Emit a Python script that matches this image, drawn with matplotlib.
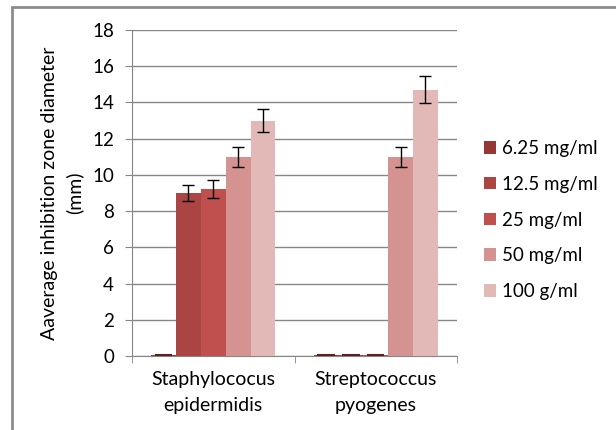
import numpy as np
import matplotlib
matplotlib.use("Agg")
import matplotlib.pyplot as plt
from matplotlib.patches import Rectangle

plt.rcParams['font.family'] = ['Lato', 'DejaVu Sans']

# --- data ---
organisms = ["Staphylococus\nepidermidis", "Streptococcus\npyogenes"]
concentrations = ["6.25 mg/ml", "12.5 mg/ml", "25 mg/ml", "50 mg/ml", "100 g/ml"]
mean_625 = [0.08, 0.08]
mean_125 = [9.0, 0.08]
mean_25 = [9.2, 0.08]
mean_50 = [11.0, 11.0]
mean_100 = [13.0, 14.7]
err_625 = [0.0, 0.0]
err_125 = [0.45, 0.0]
err_25 = [0.5, 0.0]
err_50 = [0.55, 0.55]
err_100 = [0.65, 0.75]
yticks = [0, 2, 4, 6, 8, 10, 12, 14, 16, 18]

means = [mean_625, mean_125, mean_25, mean_50, mean_100]
errs = [err_625, err_125, err_25, err_50, err_100]
colors = ["#953735", "#aa4543", "#c0504d", "#d49291", "#e3b9b8"]

fig = plt.figure(figsize=(6.16, 4.30), dpi=100)
ax = fig.add_axes([132 / 616, 1 - 356 / 430, (457 - 132) / 616, (356 - 30) / 430])

# outer chart border
fig.patches.append(Rectangle((12 / 616, -0.1), 1.2, 1 - 7 / 430 + 0.1,
                             transform=fig.transFigure, fill=False,
                             edgecolor="#8c8c8c", linewidth=2, zorder=0))

x = np.arange(len(organisms))
w = 0.153
for i, (m, e, c, lab) in enumerate(zip(means, errs, colors, concentrations)):
    pos = x + (i - 2) * w
    ax.bar(pos, m, width=w, color=c, label=lab, zorder=3)
    show = [k for k in range(len(m)) if e[k] > 0]
    ax.errorbar(pos[show], np.array(m)[show], yerr=np.array(e)[show], fmt="none",
                ecolor="black", elinewidth=1, capsize=4, capthick=1, zorder=4)
    tiny = [k for k in range(len(m)) if m[k] < 0.5]
    ax.hlines(np.array(m)[tiny], pos[tiny] - w * 0.35, pos[tiny] + w * 0.35,
              color="#5a2020", linewidth=1.5, zorder=4)

ax.set_xlim(-0.5, 1.5)
ax.set_ylim(0, 18)
ax.set_yticks(yticks)
ax.set_xticks(x)
ax.set_xticklabels(organisms, fontsize=14, linespacing=1.6)
ax.set_xticks([-0.5, 0.5, 1.5], minor=True)
ax.tick_params(axis="x", which="major", length=0, pad=11)
ax.tick_params(axis="x", which="minor", length=5, color="#868686", direction="out")
ax.tick_params(axis="y", labelsize=13.5, length=5, color="#868686", pad=8)
ax.yaxis.grid(True, color="#868686", linewidth=1, zorder=0)
ax.set_axisbelow(True)
for s in ["top", "right"]:
    ax.spines[s].set_visible(False)
for s in ["left", "bottom"]:
    ax.spines[s].set_color("#868686")

ax.set_ylabel("Aaverage inhibition zone diameter\n(mm)", fontsize=14, labelpad=6,
              linespacing=1.5)

ax.legend(loc="center left", bbox_to_anchor=(1.03, 0.417), frameon=False,
          fontsize=13.5, handlelength=0.65, handleheight=0.65, handletextpad=0.35,
          labelspacing=1.0)

fig.savefig("out.png", dpi=100)
